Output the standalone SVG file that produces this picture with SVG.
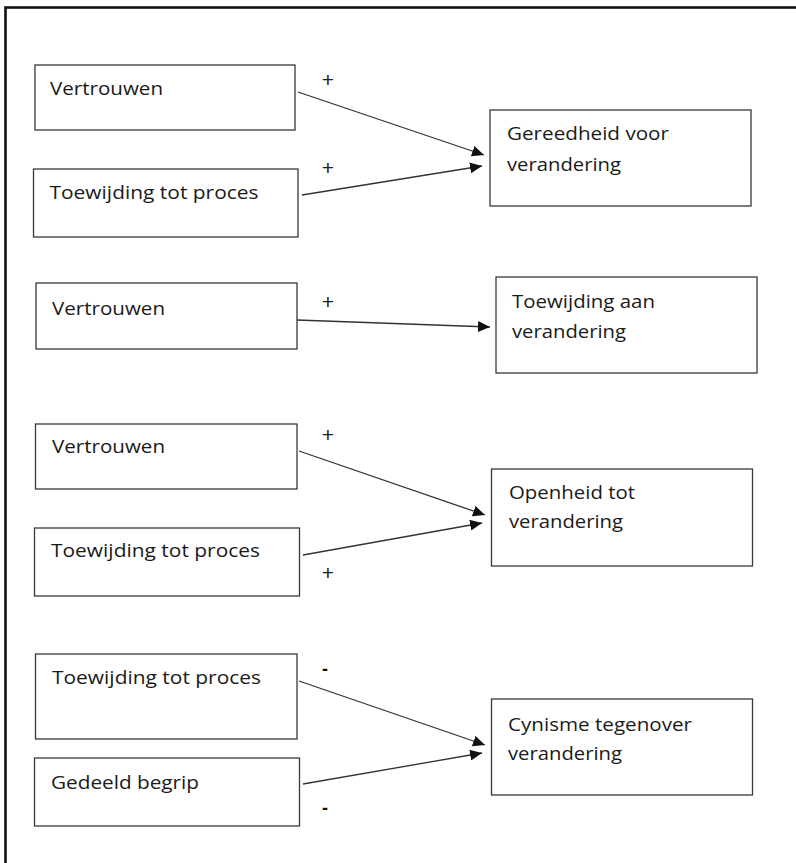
<svg xmlns="http://www.w3.org/2000/svg" width="796" height="863" viewBox="0 0 796 863">
  <defs>
    <style>
      .box { fill: #ffffff; stroke: #3a3a3a; stroke-width: 1.3; }
      .t { font-family: "Open Sans", "Liberation Sans", sans-serif; font-size: 19px; fill: #1a1a1a; }
      .sign { font-family: "Liberation Sans", "Open Sans", sans-serif; font-size: 21px; fill: #222222; text-anchor: middle; }
      .minus { font-family: "Liberation Sans", "Open Sans", sans-serif; font-size: 18px; font-weight: bold; fill: #111111; text-anchor: middle; }
      .edge { fill: none; stroke: #333333; stroke-width: 1.3; marker-end: url(#arrow); }
    </style>
    <marker id="arrow" markerUnits="userSpaceOnUse" markerWidth="13" markerHeight="11" refX="12" refY="5.5" orient="auto">
      <path d="M0,0 L12,5.5 L0,11 Z" fill="#111111"/>
    </marker>
  </defs>

  <rect width="796" height="863" fill="#ffffff"/>
  <rect id="frame" x="5.5" y="7.5" width="820" height="900" fill="none" stroke="#111111" stroke-width="2.6"/>

  <!-- Group 1 -->
  <g id="n1-vertrouwen">
    <rect class="box" x="35" y="65" width="260" height="65"/>
    <text class="t" x="50" y="95" textLength="113" lengthAdjust="spacingAndGlyphs">Vertrouwen</text>
  </g>
  <g id="n1-toewijding">
    <rect class="box" x="33.5" y="169" width="264.5" height="68"/>
    <text class="t" x="49.5" y="199" textLength="209" lengthAdjust="spacingAndGlyphs">Toewijding tot proces</text>
  </g>
  <g id="n1-gereedheid">
    <rect class="box" x="490" y="110" width="261" height="96"/>
    <text class="t" x="507" y="140" textLength="162" lengthAdjust="spacingAndGlyphs">Gereedheid voor</text>
    <text class="t" x="507" y="171" textLength="114" lengthAdjust="spacingAndGlyphs">verandering</text>
  </g>

  <!-- Group 2 -->
  <g id="n2-vertrouwen">
    <rect class="box" x="36" y="283" width="261" height="66"/>
    <text class="t" x="52" y="315" textLength="113" lengthAdjust="spacingAndGlyphs">Vertrouwen</text>
  </g>
  <g id="n2-toewijding-aan">
    <rect class="box" x="496" y="277" width="261" height="96"/>
    <text class="t" x="512" y="308" textLength="143" lengthAdjust="spacingAndGlyphs">Toewijding aan</text>
    <text class="t" x="512" y="338" textLength="114" lengthAdjust="spacingAndGlyphs">verandering</text>
  </g>

  <!-- Group 3 -->
  <g id="n3-vertrouwen">
    <rect class="box" x="35.5" y="424" width="261.5" height="65"/>
    <text class="t" x="52" y="453" textLength="113" lengthAdjust="spacingAndGlyphs">Vertrouwen</text>
  </g>
  <g id="n3-toewijding">
    <rect class="box" x="34.5" y="528" width="265" height="68"/>
    <text class="t" x="51" y="557" textLength="209" lengthAdjust="spacingAndGlyphs">Toewijding tot proces</text>
  </g>
  <g id="n3-openheid">
    <rect class="box" x="491.5" y="469" width="261" height="97"/>
    <text class="t" x="509" y="499" textLength="126" lengthAdjust="spacingAndGlyphs">Openheid tot</text>
    <text class="t" x="509" y="528" textLength="114" lengthAdjust="spacingAndGlyphs">verandering</text>
  </g>

  <!-- Group 4 -->
  <g id="n4-toewijding">
    <rect class="box" x="35.5" y="654" width="261.5" height="85"/>
    <text class="t" x="52" y="684" textLength="209" lengthAdjust="spacingAndGlyphs">Toewijding tot proces</text>
  </g>
  <g id="n4-gedeeld">
    <rect class="box" x="34.5" y="758" width="265" height="68"/>
    <text class="t" x="51" y="789" textLength="148" lengthAdjust="spacingAndGlyphs">Gedeeld begrip</text>
  </g>
  <g id="n4-cynisme">
    <rect class="box" x="491.5" y="699" width="261" height="96"/>
    <text class="t" x="508" y="731" textLength="184" lengthAdjust="spacingAndGlyphs">Cynisme tegenover</text>
    <text class="t" x="508" y="760" textLength="114" lengthAdjust="spacingAndGlyphs">verandering</text>
  </g>

  <!-- Connectors -->
  <g id="connectors">
    <line class="edge" x1="298" y1="92" x2="484" y2="155"/>
    <line class="edge" x1="302" y1="195" x2="482" y2="166"/>
    <line class="edge" x1="297" y1="320" x2="490" y2="327"/>
    <line class="edge" x1="299" y1="451" x2="485" y2="515"/>
    <line class="edge" x1="303" y1="555" x2="482" y2="523"/>
    <line class="edge" x1="299" y1="681" x2="485" y2="745"/>
    <line class="edge" x1="303" y1="784" x2="482" y2="753"/>

    <text class="sign" x="328" y="87">+</text>
    <text class="sign" x="328" y="175">+</text>
    <text class="sign" x="328" y="309">+</text>
    <text class="sign" x="328" y="442">+</text>
    <text class="sign" x="328" y="580">+</text>
    <text class="minus" x="325" y="675">-</text>
    <text class="minus" x="325" y="814">-</text>
  </g>
</svg>
